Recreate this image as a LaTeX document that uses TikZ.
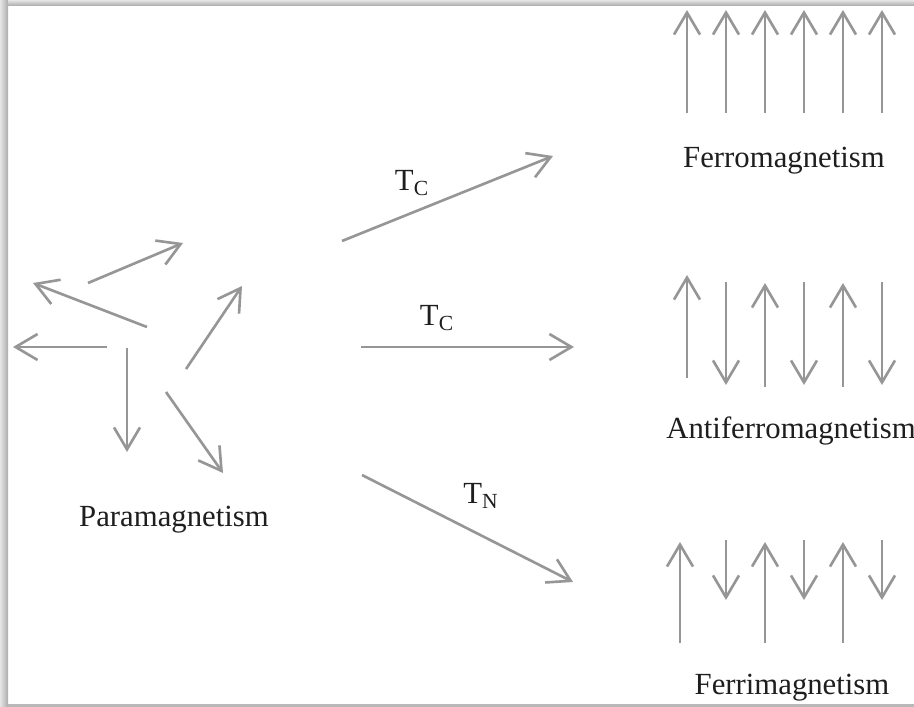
\documentclass[tikz,border=0pt]{standalone}
\usepackage{fontspec}
\setmainfont{Liberation Serif}
\usetikzlibrary{arrows.meta}

\definecolor{spingray}{RGB}{150,150,150}
\definecolor{textdark}{RGB}{30,30,30}

\tikzset{
    spin/.style={draw=spingray, line width=1.5pt,
                 -{Straight Barb[length=0.44cm, width=0.52cm, line width=1.5pt]}},
    phase/.style={text=textdark, inner sep=0pt,
                  font=\fontsize{17.5}{20}\selectfont},
    temp/.style={text=textdark, inner sep=0pt,
                 font=\fontsize{17.5}{20}\selectfont}
}

\begin{document}
\begin{tikzpicture}[x=0.02cm, y=-0.02cm]

    \useasboundingbox (0,0) rectangle (914,707);

    % shadow frame on the left, top and bottom
    \shade[left color=gray!20, right color=gray!65] (0,0) rectangle (8,707);
    \shade[top color=gray!20, bottom color=gray!60] (8,0) rectangle (914,5);
    \fill[gray!55] (8,704) rectangle (914,707);

    % Paramagnetism: spins pointing every which way
    \draw[spin] (88,283)  -- (183,243);
    \draw[spin] (147,327) -- (33,283);
    \draw[spin] (107,347) -- (13,347);
    \draw[spin] (127,348) -- (127,452);
    \draw[spin] (186,369) -- (242,286);
    \draw[spin] (166,392) -- (223,473);
    \node[phase] (Para_label) at (174,520) {Paramagnetism};

    % transitions towards the ordered phases
    \coordinate (Ferro_start) at (342,241);
    \coordinate (Ferro_end)   at (553,156);
    \coordinate (Anti_start)  at (361,347);
    \coordinate (Anti_end)    at (574,347);
    \coordinate (Ferri_start) at (362,475);
    \coordinate (Ferri_end)   at (573,582);

    \draw[spin] (Ferro_start) -- (Ferro_end);
    \draw[spin] (Anti_start)  -- (Anti_end);
    \draw[spin] (Ferri_start) -- (Ferri_end);

    \node[temp] (Tc_upper)  at (412,183) {T\textsubscript{C}};
    \node[temp] (Tc_middle) at (437,318) {T\textsubscript{C}};
    \node[temp] (Tn_lower)  at (481,496) {T\textsubscript{N}};

    % Ferromagnetism: all spins up
    \draw[spin] (687,113) -- (687,10);
    \draw[spin] (726,113) -- (726,10);
    \draw[spin] (765,113) -- (765,10);
    \draw[spin] (804,113) -- (804,10);
    \draw[spin] (843,113) -- (843,10);
    \draw[spin] (882,113) -- (882,10);
    \node[phase] (Ferro_label) at (784,161) {Ferromagnetism};

    % Antiferromagnetism: equal spins, alternating
    \draw[spin] (687,378) -- (687,275);
    \draw[spin] (726,282) -- (726,385);
    \draw[spin] (765,387) -- (765,283);
    \draw[spin] (804,282) -- (804,385);
    \draw[spin] (843,387) -- (843,283);
    \draw[spin] (882,282) -- (882,385);
    \node[phase] (Anti_label) at (791,431) {Antiferromagnetism};

    % Ferrimagnetism: unequal spins, alternating
    \draw[spin] (680,643) -- (680,542);
    \draw[spin] (726,540) -- (726,600);
    \draw[spin] (765,643) -- (765,542);
    \draw[spin] (804,540) -- (804,600);
    \draw[spin] (843,643) -- (843,542);
    \draw[spin] (882,540) -- (882,600);
    \node[phase] (Ferri_label) at (792,688) {Ferrimagnetism};

\end{tikzpicture}
\end{document}
